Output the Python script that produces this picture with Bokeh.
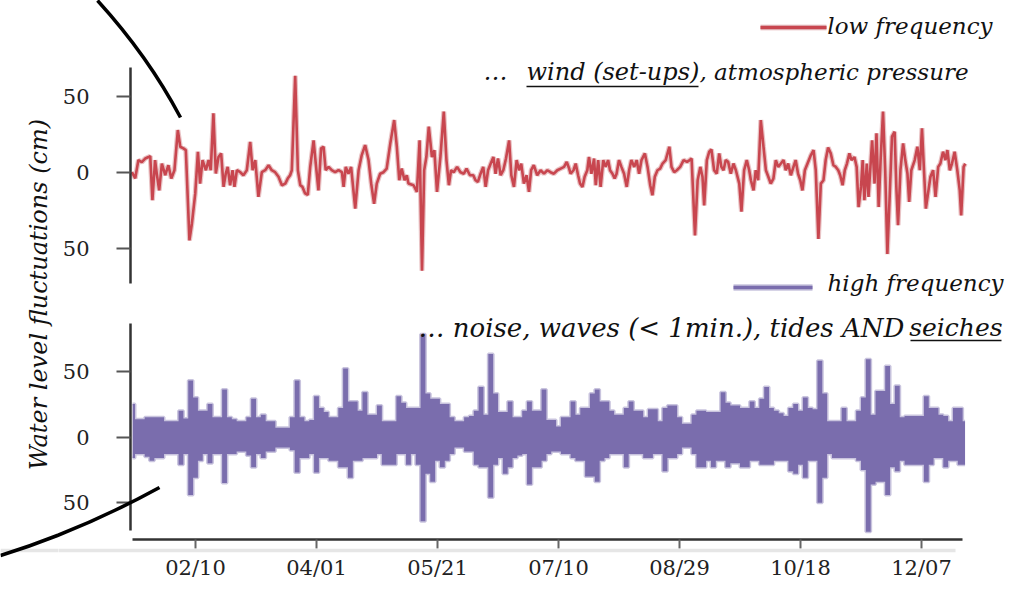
import numpy as np
import pandas as pd
from bokeh.plotting import figure
from bokeh.layouts import row, column
from bokeh.models import Range1d, FixedTicker, DatetimeTickFormatter, Label
from bokeh.embed import file_html
from bokeh.resources import INLINE

# ---------------- data ----------------
YEAR_START = pd.Timestamp("2015-01-01")

# low-frequency series: day of year, water level (cm)
lf_day = [14.7, 16.1, 17.4, 18.8, 20.2, 21.6, 22.3, 23.2, 24.3, 25.0,
          26.0, 27.1, 28.5, 29.8, 31.0, 32.3, 33.7, 34.7, 36.0, 37.0,
          38.5, 39.5, 40.9, 42.0, 42.9, 43.9, 45.3, 46.4, 47.3, 48.4,
          49.4, 50.5, 51.6, 52.6, 53.5, 54.3, 55.3, 56.3, 57.1, 58.1,
          59.5, 60.8, 62.2, 63.6, 64.6, 65.7, 67.0, 68.4, 69.8, 71.2,
          72.5, 73.9, 75.3, 76.7, 78.1, 79.1, 80.1, 80.8, 82.2, 83.3,
          84.3, 85.2, 86.3, 87.4, 88.4, 89.8, 90.7, 91.8, 92.9, 93.9,
          94.8, 96.0, 97.3, 98.7, 100.1, 101.5, 102.2, 103.1, 104.2, 105.3,
          107.0, 108.4, 109.7, 111.1, 112.5, 113.6, 114.8, 115.9, 117.3, 118.7,
          120.0, 121.5, 123.1, 124.2, 125.2, 126.2, 127.4, 128.3, 129.0, 131.1,
          132.5, 133.6, 134.6, 135.5, 136.4, 137.4, 138.7, 139.7, 140.8, 142.2,
          143.6, 144.7, 145.7, 146.6, 147.7, 149.1, 150.5, 151.9, 153.0, 154.4,
          155.8, 156.7, 157.7, 158.8, 159.9, 160.9, 161.9, 163.0, 164.1, 165.0,
          166.0, 167.1, 168.2, 169.3, 170.6, 171.5, 172.6, 173.7, 174.7, 175.6,
          176.7, 177.8, 178.8, 179.7, 180.8, 182.2, 183.6, 185.0, 186.4, 187.7,
          189.1, 190.5, 191.9, 193.3, 194.4, 195.4, 196.0, 197.2, 198.1, 199.1,
          199.9, 200.9, 201.8, 202.9, 203.6, 204.6, 205.7, 206.4, 207.4, 208.4,
          209.5, 210.5, 211.5, 212.3, 213.3, 214.2, 215.0, 216.0, 217.0, 218.1,
          219.2, 220.2, 221.1, 222.3, 223.3, 224.3, 225.3, 226.7, 227.8, 228.9,
          229.8, 230.8, 231.9, 233.0, 234.0, 235.3, 236.8, 237.7, 238.8, 239.9,
          241.3, 242.7, 244.1, 245.2, 246.0, 247.4, 248.5, 249.6, 250.5, 251.2,
          252.3, 253.3, 254.2, 255.3, 256.4, 257.4, 258.3, 259.2, 260.1, 261.1,
          262.2, 263.3, 264.3, 265.7, 266.6, 267.7, 268.8, 269.8, 270.5, 271.6,
          272.5, 273.5, 274.6, 275.7, 276.7, 277.7, 278.7, 279.8, 280.8, 281.8,
          282.9, 284.0, 284.9, 285.9, 287.0, 288.1, 289.0, 290.0, 290.9, 291.8,
          292.8, 293.9, 295.3, 296.4, 297.3, 298.4, 299.4, 300.5, 301.4, 302.4,
          303.5, 304.6, 305.6, 306.6, 307.4, 308.4, 309.3, 310.2, 311.2, 312.1,
          313.3, 314.2, 315.0, 316.0, 316.7, 317.4, 318.4, 319.1, 319.9, 320.6,
          321.6, 322.4, 323.3, 324.1, 325.1, 326.0, 326.9, 327.9, 328.8, 329.9,
          330.6, 331.3, 332.3, 333.4, 334.3, 335.2, 335.9, 336.8, 338.2, 339.3,
          340.3, 341.2, 342.1, 342.8, 343.7, 344.7, 345.8, 346.8, 347.9, 348.8,
          349.9, 350.9, 351.7, 352.7, 353.6, 354.7, 355.8, 356.8, 357.4, 358.4,
          359.1]
lf_cm = [0, -4, 8, 6.6, 9, 10, 10.6, -18.5, 8, -1,
         -12, 5.7, -2, 4.6, -4.2, 1.3, 27.8, 16.8, 15.7, 14.6,
         -45, -34, -14, 13.5, -7.5, 8, 1.3, 8, 1.3, 38.9,
         -0.9, 10, 12.4, -9.7, -1, 3.5, -8.6, 1.3, -9.7, 1.3,
         0, -2, 1.3, 20, 1.3, 8, -16.3, 0, 1.3, 4.6,
         1.3, 0, -3, -8.6, -7.5, -4.2, -2, 1.3, 63.6, 1.3,
         -8.6, -9.7, -14, -15, 3.5, 21, 5.7, -12, 15.7, 16.8,
         1.3, 3.5, 1.3, 0, 1.3, 0, -9.7, 3.5, -1, 3.5,
         -24, 1.3, 11.3, 17.9, 8, -7.5, -20.8, -7.5, -1, 0,
         2.4, 19, 34.4, 16.8, -5.3, 2.4, -5.3, -2, -7.5, -8.6,
         -13, 21, -65, 1.3, 10, 30, 10, 14.6, -13, 10,
         40, 8, -8.6, 1.3, 0, 3.5, 0, -1, 2.4, -2,
         -2, -5.3, -6.4, -1, 3.5, -9.7, 1.3, 5.7, 10, -1,
         9, -2, 1.3, 9, 21, -2, -9.7, 8, 1.3, 5.7,
         -7.5, -2, -13, 1.3, 4.6, -2, 1.3, -1, 1.3, 0,
         -1, 1.3, 2.4, 3.5, 6.8, 2.4, -1, 1.3, 5.7, -2,
         -7.5, -9.7, -3, 1.3, 10, -1, 9, -8.6, 8, -9.7,
         8, 3.5, 8, 1.3, -1, -4.2, -1, 8, 3.5, -1,
         -9.7, 1.3, 8, 3.5, 8, -1, 8, 12.4, 3.5, -8.6,
         -15.2, -3, 1.3, 2.4, 5.7, 8, 16.8, 3.5, 0, 1.3,
         3.5, 8, 6.8, 8, 9, -41.7, -5.3, 3.5, -3, -21.9,
         8, 13.5, 15, 1.3, -1, 12.4, 3.5, 1.3, 8, 6.8,
         -1, 5.7, 1.3, -7.5, -26, 1.3, 8, 1.3, -5.3, -12,
         1.3, -5.3, 34.4, 16.8, 1.3, -3, -7.5, -4.2, 8, 3.5,
         5.7, 8, 1.3, 5.7, -2, 3.5, 8, -1, -5.3, -12,
         1.3, 5.7, 11.3, 14.6, 1.3, -44, -7.5, -5.3, 8, 16.3,
         12.4, 4.6, 3.5, 1.3, -2, -8.6, 1.3, 5.7, 12.4, 8,
         10, 3.5, -23, -9.7, 8, -18.5, 5.7, -16.3, 3.5, 21,
         -7.5, 25.6, -23, 8, 40, 1.3, -54, -14, 23.4, 26.7,
         -9.7, -35, 1.3, 19, 8, -1, -19.6, 1.3, 8, 16.8,
         1.3, 29, -1, -24, -14, -3, 1.3, -16.3, 3.5, 5.7,
         13.5, 8, 14.6, 1.3, 5.7, 13.5, 1.3, -12, -28.5, 3.5,
         5.7]

# high-frequency series: upper / lower envelope (cm) on a 2-day grid
hf_first_day, hf_step = 15, 2
hf_hi = [25, 13.5, 13.5, 15, 15, 15, 15, 12, 12, 12,
         20, 14, 43, 30, 20, 20, 25, 15, 15, 36,
         15, 13.5, 12, 12, 15, 29, 15, 17, 12, 12,
         7, 7, 7, 15, 43, 15, 12, 13, 31, 22,
         19, 15, 15, 22, 52, 27, 27, 20, 34, 17,
         17, 24, 12, 12, 12, 31, 26, 22,
         22, 22, 78, 33, 29, 29, 25, 25, 15, 12,
         12, 15, 16, 20, 38, 17, 63, 33, 19, 19,
         27, 15, 15, 20, 27, 20, 20, 36, 13, 13,
         8, 15, 15, 27, 17, 22, 22, 33, 36, 27,
         27, 20, 17, 17, 22, 27, 20, 20, 15, 21,
         21, 12, 22, 24, 24, 15, 10, 10,
         17, 20, 20, 19, 19, 19, 34, 26, 24, 24,
         22, 22, 27, 22, 29, 38, 22, 20, 18, 16,
         22, 25, 20, 30, 22, 21, 58, 33, 12, 12,
         12, 22, 12, 12, 20, 30, 59, 17, 35, 35,
         54, 25, 39, 15, 16, 16, 16, 16, 31, 22,
         22, 17, 16, 12, 22, 22, 12]
hf_lo = [-16, -13, -13, -15, -18, -16, -16, -13, -13, -13,
         -21, -13, -44, -31, -18, -13, -20, -13, -13, -35,
         -13, -13, -11, -11, -14, -23, -13, -16, -11, -11,
         -8, -8, -8, -10, -27, -16, -16, -13, -27, -16,
         -16, -18, -18, -23, -23, -31, -18, -18, -16, -16,
         -16, -13, -21, -21, -21, -13, -13, -21,
         -13, -21, -64, -28, -34, -18, -23, -18, -13, -8,
         -8, -11, -11, -21, -23, -23, -46, -21, -16, -28,
         -23, -16, -14, -13, -36, -23, -23, -18, -13, -11,
         -11, -13, -13, -16, -18, -18, -30, -30, -34, -18,
         -16, -13, -13, -13, -23, -13, -13, -13, -16, -16,
         -13, -13, -26, -16, -16, -13, -8, -8,
         -13, -23, -23, -18, -23, -18, -18, -23, -20, -20,
         -23, -23, -18, -18, -21, -21, -21, -18, -18, -18,
         -26, -28, -21, -31, -18, -18, -50, -31, -13, -16,
         -16, -16, -16, -16, -18, -25, -72, -36, -34, -34,
         -44, -23, -26, -18, -21, -21, -21, -21, -34, -21,
         -16, -16, -23, -18, -18, -21, -21]

tick_dates = ["2015-02-10", "2015-04-01", "2015-05-21", "2015-07-10",
              "2015-08-29", "2015-10-18", "2015-12-07"]
y_ticks = [-50, 0, 50]
y_tick_labels = ["50", "0", "50"]

# ---------------- helpers ----------------
EPOCH = pd.Timestamp("1970-01-01")
BASE_MS = (YEAR_START - EPOCH).total_seconds() * 1000.0


def day_ms(d):
    return BASE_MS + (d - 1.0) * 86400000.0


lf_x = [day_ms(d) for d in lf_day]
hf_day = [hf_first_day + hf_step * i for i in range(len(hf_hi))]
hf_x = [day_ms(d) for d in hf_day]
tick_ms = [(pd.Timestamp(t) - EPOCH).total_seconds() * 1000.0 for t in tick_dates]

# page geometry (pixels)
W, H = 1024, 591
LABEL_W = 58
TOP_H = 306
FRAME_L = 130
X0_PX, X0_DAY, PX_PER_DAY = 195.0, 41.0, 2.42
BL = 9  # baseline correction for labels (px)


def gx(X):
    return day_ms(X0_DAY + (X - X0_PX) / PX_PER_DAY)


def gyt(Y):
    return (171.7 - Y) / 1.516


def gyb(Y):
    return (436.5 - Y) / 1.316


RED = "#c8464f"
RED_HALO = "#dfa9ad"
PURPLE = "#7a6dad"
PURPLE_HALO = "#c9c4de"
SERIF = "DejaVu Serif"
ITAL = "DejaVu Serif"

x_range = Range1d(gx(FRAME_L), gx(W))


def style_y(ax, bounds):
    ax.bounds = bounds
    ax.ticker = FixedTicker(ticks=y_ticks)
    ax.major_label_overrides = {t: l for t, l in zip(y_ticks, y_tick_labels)}
    ax.minor_tick_line_color = None
    ax.major_tick_in = 0
    ax.major_tick_out = 14
    ax.major_tick_line_width = 2
    ax.major_tick_line_color = "#555555"
    ax.axis_line_width = 2.5
    ax.axis_line_color = "#333333"
    ax.major_label_standoff = 27
    ax.major_label_text_font = SERIF
    ax.major_label_text_font_size = "21px"
    ax.major_label_text_color = "#222222"


def base_fig(h, yr, **kw):
    p = figure(width=W - LABEL_W, height=h, x_axis_type="datetime",
               x_range=x_range, y_range=yr, toolbar_location=None,
               output_backend="svg", min_border_left=FRAME_L - LABEL_W,
               min_border_right=0, min_border_top=0,
               outline_line_color=None, background_fill_color="white",
               border_fill_color="white", **kw)
    p.grid.visible = False
    return p


def text(p, x, y, s, size="24px", align="left"):
    p.add_layout(Label(x=x, y=y, text=s, text_font=ITAL, text_font_style="italic",
                       text_font_size=size, text_color="#111111", text_align=align,
                       text_baseline="alphabetic"))


# ---------------- top panel (low frequency) ----------------
top = base_fig(TOP_H, Range1d(gyt(TOP_H), gyt(0)), x_axis_location=None,
               min_border_bottom=0)
style_y(top.yaxis[0], (gyt(283), gyt(66.7)))
top.line(lf_x, lf_cm, line_width=5, color=RED_HALO, alpha=0.7)
top.line(lf_x, lf_cm, line_width=2.6, color=RED)

# legend + annotation texts
top.line([gx(760), gx(826)], [gyt(27), gyt(27)], line_width=5.5, color=RED_HALO)
top.line([gx(760), gx(826)], [gyt(27), gyt(27)], line_width=3, color=RED)
text(top, gx(992), gyt(34 - BL), "low frequency", size="23px", align="right")
text(top, gx(483), gyt(80 - BL), "\u2026")
text(top, gx(526), gyt(80 - BL), "wind (set-ups)")
text(top, gx(699), gyt(80 - BL), ", atmospheric pressure", size="23px")
top.line([gx(526), gx(698)], [gyt(86), gyt(86)], line_width=1.5, color="#111111")

top.line([gx(733), gx(812)], [gyt(287), gyt(287)], line_width=6.5, color=PURPLE_HALO)
top.line([gx(733), gx(812)], [gyt(287), gyt(287)], line_width=3.5, color=PURPLE)
text(top, gx(1003), gyt(291 - BL), "high frequency", size="23px", align="right")

# decorative arc (top-left)
top.quadratic(x0=[gx(97)], y0=[gyt(0)], x1=[gx(180)], y1=[gyt(117)],
              cx=[gx(147.5)], cy=[gyt(55.5)], line_width=3.5, line_color="black",
              level="overlay")

# ---------------- bottom panel (high frequency) ----------------
bot = base_fig(H - TOP_H, Range1d(gyb(539), gyb(TOP_H)), min_border_bottom=H - 539)
style_y(bot.yaxis[0], (gyb(530), gyb(323.3)))
xa = bot.xaxis[0]
xa.ticker = FixedTicker(ticks=tick_ms)
xa.formatter = DatetimeTickFormatter(days="%m/%d", months="%m/%d", years="%m/%d",
                                     hours="%m/%d", minutes="%m/%d")
xa.bounds = (gx(132), gx(962))
xa.minor_tick_line_color = None
xa.major_tick_in = 0
xa.major_tick_out = 9
xa.major_tick_line_width = 2
xa.major_tick_line_color = "#666666"
xa.axis_line_width = 2.5
xa.axis_line_color = "#333333"
xa.major_label_standoff = 7
xa.major_label_text_font = SERIF
xa.major_label_text_font_size = "21px"
xa.major_label_text_color = "#222222"

bot.step(hf_x, hf_hi, mode="center", line_width=3, color=PURPLE_HALO)
bot.step(hf_x, hf_lo, mode="center", line_width=3, color=PURPLE_HALO)
bot.varea_step(x=hf_x, y1=hf_lo, y2=hf_hi, step_mode="center", fill_color=PURPLE)

text(bot, gx(418), gyb(336 - BL), "\u2026 noise, waves (< 1min.), tides AND", size="26px")
text(bot, gx(1002), gyb(336 - BL), "seiches", size="25px", align="right")
bot.line([gx(910), gx(1001)], [gyb(340), gyb(340)], line_width=1.5, color="#111111")

# decorative arc (bottom-left) + light baseline
bot.line([gx(LABEL_W), gx(955)], [gyb(550), gyb(550)], line_width=3.5,
         color="#e6e6e6", level="overlay")
bot.quadratic(x0=[gx(0)], y0=[gyb(555)], x1=[gx(159)], y1=[gyb(487)],
              cx=[gx(80.5)], cy=[gyb(530)], line_width=3.5, line_color="black",
              level="overlay")

# ---------------- left strip with the shared y-axis title ----------------
lab = figure(width=LABEL_W, height=H, x_range=Range1d(0, LABEL_W), y_range=Range1d(0, H),
             x_axis_location=None, y_axis_location=None, toolbar_location=None,
             output_backend="svg", min_border=0, outline_line_color=None)
lab.grid.visible = False
lab.add_layout(Label(x=38, y=H - 294, text="Water level fluctuations (cm)", angle=np.pi / 2,
                     text_font=ITAL, text_font_style="italic", text_font_size="24px",
                     text_color="#111111", text_align="center", text_baseline="middle"))
lab.line([0, LABEL_W], [H - 550, H - 550], line_width=3.5, color="#e6e6e6")
lab.quadratic(x0=[0], y0=[H - 555], x1=[159], y1=[H - 487], cx=[80.5], cy=[H - 530],
              line_width=3.5, line_color="black")

layout = row(lab, column(top, bot))
open("out.html", "w").write(file_html(layout, INLINE))
